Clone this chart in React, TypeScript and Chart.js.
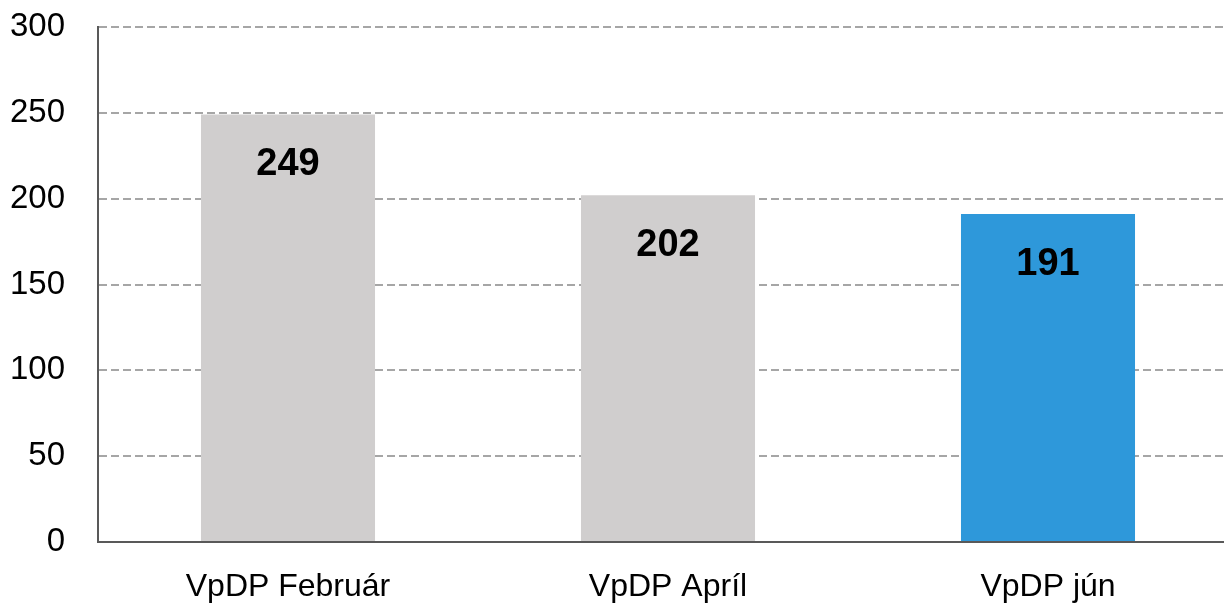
import React, { useEffect, useRef } from "react";
import { Chart, registerables } from "chart.js";

Chart.register(...registerables);

const categories = ["VpDP Február", "VpDP Apríl", "VpDP jún"];
const values = [249, 202, 191];
const barColors = ["#D0CECE", "#D0CECE", "#2E98DA"];
const yMin = 0;
const yMax = 300;
const yStep = 50;

const labelPlugin = {
  id: "barLabels",
  afterDatasetsDraw(chart: any) {
    const ctx = chart.ctx;
    const meta = chart.getDatasetMeta(0);
    ctx.save();
    ctx.font = "bold 38px 'Liberation Sans', Arial, sans-serif";
    ctx.fillStyle = "#000000";
    ctx.textAlign = "center";
    ctx.textBaseline = "middle";
    meta.data.forEach((bar: any, i: number) => {
      ctx.fillText(String(values[i]), bar.x, bar.y + 50);
    });
    ctx.restore();
  },
};

export default function App() {
  const ref = useRef<HTMLCanvasElement | null>(null);
  useEffect(() => {
    if (!ref.current) return;
    const chart = new Chart(ref.current, {
      type: "bar",
      data: {
        labels: categories,
        datasets: [
          {
            data: values,
            backgroundColor: barColors,
            borderWidth: 0,
            categoryPercentage: 1,
            barPercentage: 0.458,
          },
        ],
      },
      options: {
        animation: false,
        responsive: false,
        maintainAspectRatio: false,
        layout: { padding: { top: 27, right: 2, left: 0, bottom: 0 } },
        plugins: { legend: { display: false }, tooltip: { enabled: false } },
        scales: {
          x: {
            grid: { display: false, drawTicks: false },
            border: { display: true, color: "#595959", width: 2 },
            ticks: {
              color: "#000000",
              padding: 26,
              maxRotation: 0,
              font: { family: "'Liberation Sans', Arial, sans-serif", size: 32 },
            },
            afterFit(scale: any) {
              scale.height = 68;
              scale.paddingLeft = 0;
              scale.paddingRight = 0;
            },
          },
          y: {
            min: yMin,
            max: yMax,
            grid: {
              color: "#A6A6A6",
              lineWidth: 2,
              drawTicks: false,
            },
            border: { display: true, color: "#595959", width: 2, dash: [8, 4] },
            ticks: {
              stepSize: yStep,
              color: "#000000",
              padding: 33,
              font: { family: "'Liberation Sans', Arial, sans-serif", size: 33 },
            },
            afterFit(scale: any) {
              scale.width = 98;
              scale.paddingTop = 0;
              scale.paddingBottom = 0;
            },
          },
        },
      },
      plugins: [labelPlugin],
    });
    return () => chart.destroy();
  }, []);

  return (
    <div
      style={{
        position: "fixed",
        left: 0,
        top: 0,
        width: 1224,
        height: 610,
        overflow: "hidden",
        background: "#ffffff",
      }}
    >
      <canvas ref={ref} width={1240} height={610} style={{ display: "block" }} />
    </div>
  );
}
